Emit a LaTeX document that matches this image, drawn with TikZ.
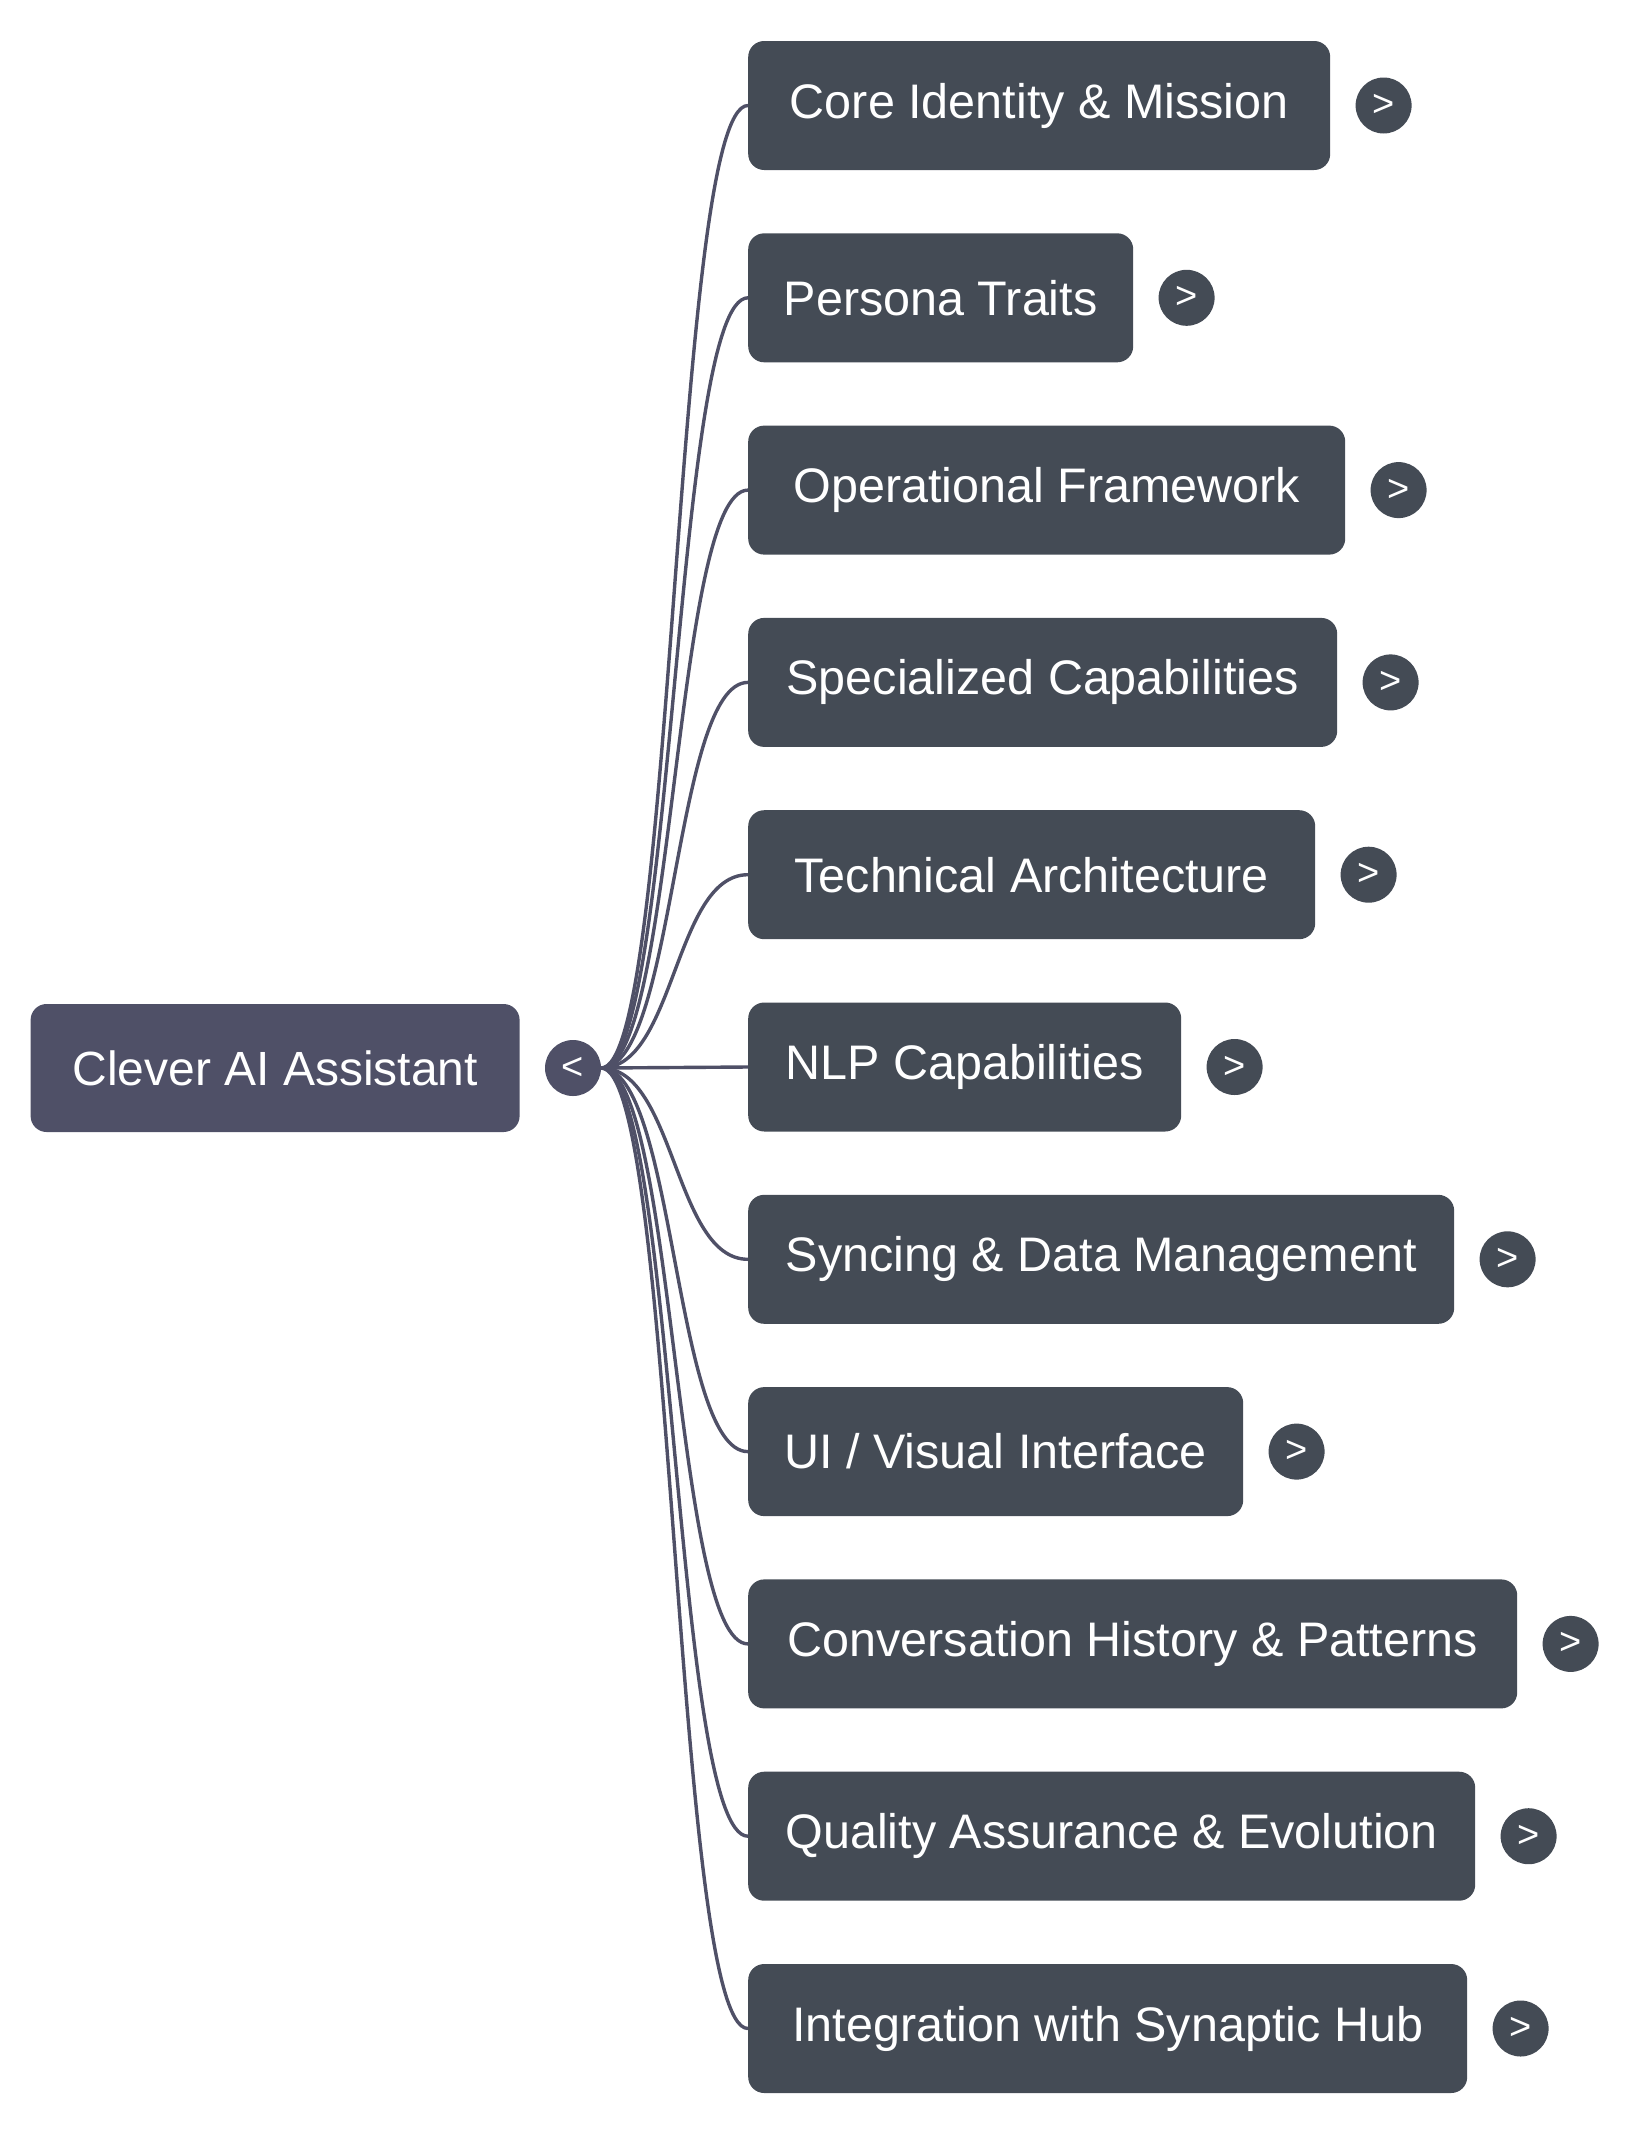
\documentclass[tikz,border=0pt]{standalone}
\usepackage{fontspec}
\setmainfont{Liberation Sans}
\usetikzlibrary{positioning}
\definecolor{rootfill}{HTML}{4F5067}
\definecolor{boxfill}{HTML}{444B55}
\tikzset{root/.style={fill=rootfill, text=white, rounded corners=16pt, minimum width=489pt, minimum height=128pt, font=\fontsize{48}{58}\selectfont},
block/.style={fill=boxfill, text=white, rounded corners=16pt, minimum height=129pt, anchor=west, font=\fontsize{48.5}{58}\selectfont},
knob/.style={circle, fill=#1, text=white, minimum size=56pt, inner sep=0pt, font=\fontsize{38}{44}\selectfont},
link/.style={draw=rootfill, line width=3.4pt, min distance=74pt, max distance=74pt}
}
\begin{document}
\begin{tikzpicture}[x=1pt,y=-1pt]
\useasboundingbox (0,0) rectangle (1630,2136);
\node[knob=rootfill] (hub) at (573,1068) {<};
\node[root, left=25pt of hub] (root) {Clever AI Assistant};
% one branch per topic, with its expand button
\foreach \i/\w/\t in {1/582/{Core Identity \& Mission}, 2/385/{Persona Traits},
  3/597/{Operational Framework}, 4/589/{Specialized Capabilities},
  5/567/{Technical Architecture}, 6/433/{NLP Capabilities},
  7/706/{Syncing \& Data Management}, 8/495/{UI / Visual Interface},
  9/769/{Conversation History \& Patterns}, 10/727/{Quality Assurance \& Evolution},
  11/719/{Integration with Synaptic Hub}}{
  \node[block, minimum width=\w pt] (n\i) at (748,{105.5+192.3*(\i-1)}) {\t};
  \node[knob=boxfill, right=25pt of n\i] (b\i) {>};
  \draw[link] (hub.east) to[out=0,in=180] (n\i.west);
}
\end{tikzpicture}
\end{document}
